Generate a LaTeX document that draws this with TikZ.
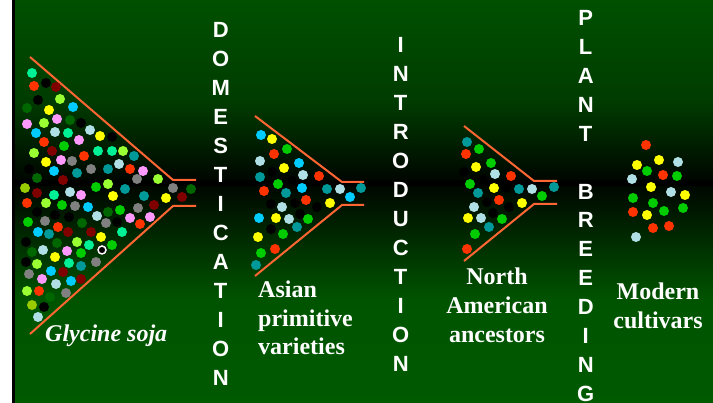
\documentclass[tikz,border=0pt]{standalone}
\usepackage{fontspec}
\setmainfont{Liberation Serif}
\newfontfamily\arialf{Liberation Sans}
\definecolor{sg}{RGB}{0,240,150}
\definecolor{rd}{RGB}{255,51,0}
\definecolor{mr}{RGB}{128,0,0}
\definecolor{lg}{RGB}{153,255,51}
\definecolor{sb}{RGB}{0,204,255}
\definecolor{dg}{RGB}{0,102,0}
\definecolor{ye}{RGB}{255,255,0}
\definecolor{pk}{RGB}{255,153,255}
\definecolor{pb}{RGB}{176,224,230}
\definecolor{gr}{RGB}{0,204,0}
\definecolor{gy}{RGB}{128,128,128}
\definecolor{tl}{RGB}{0,153,153}
\definecolor{ol}{RGB}{153,204,0}
\definecolor{bk}{RGB}{0,0,0}
\definecolor{ln}{RGB}{255,102,51}
\definecolor{gA}{RGB}{0,80,0}
\definecolor{gB}{RGB}{0,60,0}
\definecolor{gC}{RGB}{0,6,0}
\definecolor{gD}{RGB}{0,8,0}
\definecolor{gE}{RGB}{0,84,0}
\definecolor{gF}{RGB}{0,90,0}
\tikzset{
  funnel/.style={draw=ln, line width=2pt},
  vlet/.style={text=white, font=\arialf\bfseries\fontsize{22}{22}\selectfont, anchor=base, inner sep=0pt},
  lbl/.style={text=white, font=\bfseries\fontsize{24}{28}\selectfont, inner sep=0pt},
}
\begin{document}
\begin{tikzpicture}[x=1pt,y=-1pt]
\useasboundingbox (0,0) rectangle (713,403);
% background
\fill[white] (0,0) rectangle (12,403);
\fill[black] (12,0) rectangle (15,403);
\shade[top color=gA, bottom color=gB] (15,0) rectangle (713,100.5);
\shade[top color=gB, bottom color=gC] (15,100) rectangle (713,180.5);
\fill[black] (15,180) rectangle (713,187.5);
\shade[top color=gD, bottom color=gE] (15,187) rectangle (713,300.5);
\shade[top color=gE, bottom color=gF] (15,300) rectangle (713,403);
% funnels
\draw[funnel] (30,57) -- (173,180) -- (196,180);
\draw[funnel] (30,334) -- (173,206) -- (196,206);
\draw[funnel] (255,116) -- (342,182) -- (364,182);
\draw[funnel] (255,276) -- (342,205) -- (364,205);
\draw[funnel] (464,126) -- (534,181) -- (557,181);
\draw[funnel] (464,261) -- (534,204) -- (557,204);
% dots funnel 1
\foreach \c/\x/\y in {sg/32/73,rd/34/86,bk/46/83,mr/56/87,bk/38/100,lg/60/99,dg/27/108,ye/49/110,sb/73/107,
pk/27/124,lg/44/123,pk/57/119,dg/70/120,bk/81/123,sb/36/133,pb/55/132,sg/68/133,pk/79/140,pb/90/130,ye/100/136,bk/112/137,
rd/44/142,gr/64/146,lg/34/153,mr/52/151,pk/61/160,gy/72/161,rd/84/156,sg/98/151,sg/112/151,lg/123/151,tl/134/156,
bk/29/169,ye/46/162,sb/54/171,tl/77/173,gy/91/169,tl/108/169,pb/119/164,rd/130/169,pk/143/171,gy/137/179,lg/158/179,
dg/37/178,mr/63/180,gy/173/188,dg/191/189,ol/25/188,mr/37/193,sg/54/195,pb/70/192,pk/81/195,gr/96/187,lg/108/184,ye/113/196,
tl/125/189,tl/144/196,ye/166/198,mr/182/197,
rd/27/203,lg/46/203,gr/62/205,gy/75/206,sb/88/207,gy/138/208,mr/154/205,bk/37/212,bk/55/215,bk/69/217,pb/97/216,dg/108/212,
gr/120/210,pk/130/218,pk/150/217,gr/28/222,gy/45/221,rd/58/227,dg/82/223,gy/106/223,bk/117/222,rd/140/224,
sb/38/232,tl/49/234,mr/68/232,mr/91/232,ye/101/237,sg/122/232,bk/26/242,dg/57/243,lg/77/242,sg/89/245,gr/112/245,
dg/32/252,pb/43/250,pk/67/251,gr/81/253,bk/26/262,lg/37/264,ye/55/257,sg/69/263,tl/81/266,gy/96/262,
gy/29/274,sb/51/271,mr/63/272,pk/42/279,pb/56/284,sb/71/281,mr/81/279,lg/27/291,rd/39/291,dg/50/297,gy/66/293,
ol/32/305,bk/44/307,pb/38/317}
  \fill[\c] (\x,\y) circle (5pt);
\fill[black] (102,250) circle (5pt);
\draw[white, line width=1.5pt] (102,250) circle (4pt);
% dots funnel 2
\foreach \c/\x/\y in {sb/261/135,ye/272/139,rd/274/154,gr/287/149,pb/260/161,ye/284/168,sb/299/163,bk/272/172,pb/303/175,
rd/319/176,tl/260/177,gr/278/184,bk/292/181,sb/302/188,tl/286/193,tl/327/189,pb/340/189,tl/361/188,sb/350/197,rd/264/191,
bk/271/204,rd/306/200,bk/295/203,bk/317/207,ye/330/203,pb/282/207,sb/259/218,ye/276/218,pb/289/219,bk/300/214,gr/308/219,
bk/271/229,gr/283/234,tl/297/227,ye/258/237,gr/261/253,rd/275/249,tl/256/265}
  \fill[\c] (\x,\y) circle (5pt);
% dots funnel 3
\foreach \c/\x/\y in {tl/467/142,gr/479/149,rd/466/154,gr/491/163,bk/464/172,ye/476/167,pb/495/174,rd/511/176,bk/483/180,
gr/470/184,ye/494/188,bk/506/188,tl/519/189,pb/532/189,tl/554/187,tl/478/193,gr/542/196,bk/487/202,rd/499/200,bk/509/207,
ye/522/203,pb/474/207,bk/493/213,ye/468/218,pb/481/218,gr/502/219,tl/489/227,gr/475/234,rd/467/249}
  \fill[\c] (\x,\y) circle (5pt);
% modern cultivars
\foreach \c/\x/\y in {rd/646/145,ye/637/165,ye/659/160,pb/678/162,gr/647/171,rd/663/175,gr/677/176,pb/632/179,ye/651/187,
pb/671/192,ye/685/195,gr/633/198,gr/653/203,gr/683/208,rd/633/212,ye/647/215,gr/664/211,rd/653/228,rd/669/226,pb/636/237}
  \fill[\c] (\x,\y) circle (5pt);
% vertical words
\foreach \l [count=\i from 0] in {D,O,M,E,S,T,I,C,A,T,I,O,N}
  \node[vlet] (dom\i) at (220.7,{37.5+29*\i}) {\l};
\foreach \l [count=\i from 0] in {I,N,T,R,O,D,U,C,T,I,O,N}
  \node[vlet] (intr\i) at (400.7,{52.7+29*\i}) {\l};
\foreach \l [count=\i from 0] in {P,L,A,N,T,{},B,R,E,E,D,I,N,G}
  \node[vlet] (pb\i) at (585.7,{26+28.85*\i}) {\l};
% labels
\node[lbl, anchor=base west, font=\bfseries\itshape\fontsize{24}{28}\selectfont] (gs) at (45,341.7) {Glycine soja};
\node[lbl, anchor=base west] (as1) at (258,297.7) {Asian};
\node[lbl, anchor=base west] (as2) at (258,326.2) {primitive};
\node[lbl, anchor=base west] (as3) at (258,354.7) {varieties};
\node[lbl, anchor=base] (na1) at (497,285) {North};
\node[lbl, anchor=base] (na2) at (497,314) {American};
\node[lbl, anchor=base] (na3) at (497,342.7) {ancestors};
\node[lbl, anchor=base] (mc1) at (658,300) {Modern};
\node[lbl, anchor=base] (mc2) at (658,328.3) {cultivars};
\end{tikzpicture}
\end{document}
